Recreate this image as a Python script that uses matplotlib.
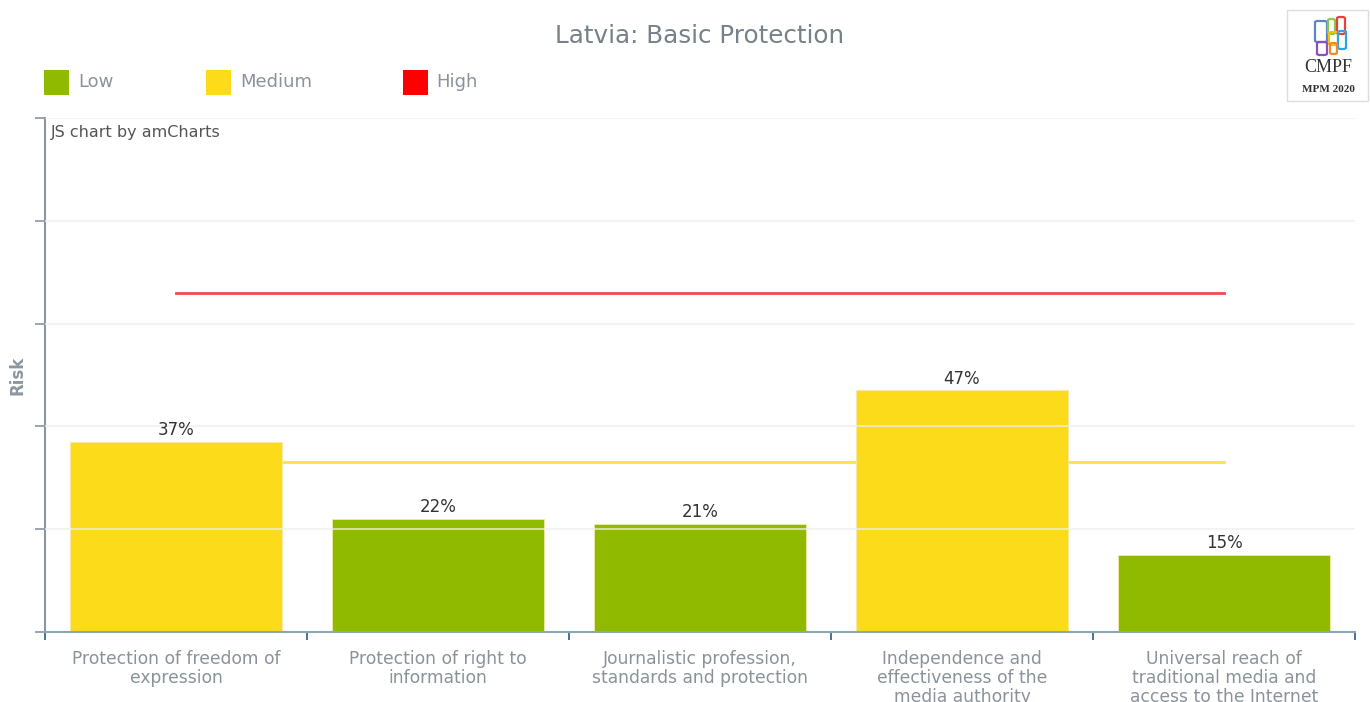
import matplotlib
matplotlib.use("Agg")
import matplotlib.pyplot as plt
from matplotlib.patches import Rectangle, FancyBboxPatch

# data
categories = ["Protection of freedom of\nexpression",
              "Protection of right to\ninformation",
              "Journalistic profession,\nstandards and protection",
              "Independence and\neffectiveness of the\nmedia authority",
              "Universal reach of\ntraditional media and\naccess to the Internet"]
risk = [37, 22, 21, 47, 15]
risk_level = ["Medium", "Low", "Low", "Medium", "Low"]
low_medium_limit = 33
medium_high_limit = 66

colors = {"Low": "#8fba00", "Medium": "#fcdb1a", "High": "#ff0000"}
label_grey = "#8a939c"

W, H = 1370, 702
fig = plt.figure(figsize=(W / 100, H / 100), dpi=100)
fig.patch.set_facecolor("white")

def fx(x):
    return x / W

def fy(y):
    return 1 - y / H

ax = fig.add_axes([fx(45), fy(632), (1355 - 45) / W, (632 - 118) / H])
x = list(range(len(categories)))

# threshold lines sit behind the bars
ax.plot([x[0], x[-1]], [low_medium_limit] * 2, color="#fde34a", lw=2, zorder=1)
ax.plot([x[0], x[-1]], [medium_high_limit] * 2, color="#f44a4a", lw=2, zorder=1)

bars = ax.bar(x, risk, width=0.81, color=[colors[r] for r in risk_level],
              edgecolor="#f6e7a8", linewidth=0.6, zorder=2)
for i, v in enumerate(risk):
    ax.annotate(f"{v}%", (x[i], v), xytext=(0, 2), textcoords="offset points",
                ha="center", va="bottom", fontsize=12, color="#333333", zorder=5)

ax.set_xlim(-0.5, len(categories) - 0.5)
ax.set_ylim(0, 100)

# grid drawn on top of the bars, slightly transparent
for g in [20, 40, 60, 80, 100]:
    ax.axhline(g, color="#eeeeee", lw=1.5, alpha=0.7, zorder=3)

ax.set_yticks([0, 20, 40, 60, 80, 100])
ax.set_yticklabels([])
ax.tick_params(axis="y", length=7, width=1.2, color="#8a96a0", direction="out")
ax.set_xticks([i - 0.5 for i in range(len(categories) + 1)])
ax.set_xticklabels([])
ax.tick_params(axis="x", length=6, width=1.2, color="#2c5a80", direction="out")

for s in ["top", "right"]:
    ax.spines[s].set_visible(False)
ax.spines["left"].set_color("#8a96a0")
ax.spines["left"].set_linewidth(1.5)
ax.spines["bottom"].set_color("#8aa4b8")
ax.spines["bottom"].set_linewidth(1.5)

for i, c in enumerate(categories):
    ax.text(x[i], -0.035, c, transform=ax.get_xaxis_transform(), ha="center",
            va="top", fontsize=12.3, color=label_grey, linespacing=1.08)

ax.text(6 / 1310, 0.971, "JS chart by amCharts", transform=ax.transAxes,
        ha="left", va="center", fontsize=11.5, color="#555555")

fig.text(fx(18), fy(375), "Risk", rotation=90, ha="center", va="center",
         fontsize=12, fontweight="bold", color="#8a96a0")

fig.text(fx(700), fy(36), "Latvia: Basic Protection", ha="center", va="center",
         fontsize=17.7, color="#76818b")

# legend
legend_items = [("Low", 44, 78), ("Medium", 206, 240), ("High", 403, 436)]
for name, bx, tx in legend_items:
    fig.patches.append(Rectangle((fx(bx), fy(95)), 25 / W, 25 / H,
                                 transform=fig.transFigure,
                                 facecolor=colors[name], edgecolor="none"))
    fig.text(fx(tx), fy(82), name, ha="left", va="center", fontsize=13,
             color=label_grey)

# CMPF logo box
fig.patches.append(Rectangle((fx(1287), fy(101)), 81 / W, 91 / H,
                             transform=fig.transFigure, facecolor="white",
                             edgecolor="#dddddd", lw=1))
logo_blocks = [(1315, 21, 12, 21, "#5b87c5"), (1328, 19, 7, 15, "#8cc84b"),
               (1337, 17, 8, 17, "#e8403a"), (1329, 32, 9, 13, "#f5c400"),
               (1338, 31, 8, 18, "#29a8e0"), (1317, 42, 10, 13, "#8a4fc0"),
               (1330, 43, 7, 11, "#f08a24")]
for lx, ly, lw_, lh, lc in logo_blocks:
    fig.patches.append(FancyBboxPatch((fx(lx), fy(ly + lh)), lw_ / W, lh / H,
                                      boxstyle="round,pad=0,rounding_size=0.002",
                                      transform=fig.transFigure, facecolor="none",
                                      edgecolor=lc, lw=1.6))
fig.text(fx(1328), fy(67), "CMPF", ha="center", va="center", fontsize=13,
         family="Liberation Serif", color="#333333")
fig.text(fx(1328), fy(90), "MPM 2020", ha="center", va="center", fontsize=8,
         family="Liberation Serif", fontweight="bold", color="#333333")

fig.savefig("out.png", dpi=100)
